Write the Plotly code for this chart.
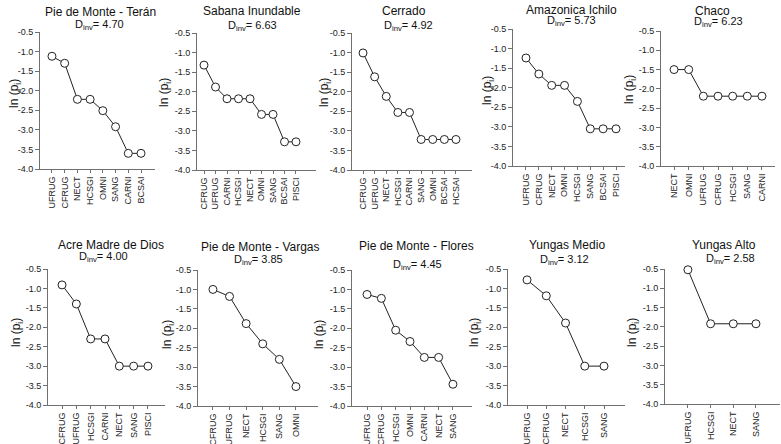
import plotly.graph_objects as go

# ---------------- data ----------------
titles = ["Pie de Monte - Terán", "Sabana Inundable", "Cerrado", "Amazonica Ichilo", "Chaco",
          "Acre Madre de Dios", "Pie de Monte - Vargas", "Pie de Monte - Flores", "Yungas Medio", "Yungas Alto"]
dinv = ["4.70", "6.63", "4.92", "5.73", "6.23", "4.00", "3.85", "4.45", "3.12", "2.58"]

teran_cats = ["UFRUG", "CFRUG", "NECT", "HCSGI", "OMNI", "SANG", "CARNI", "BCSAI"]
teran_vals = [-1.12, -1.30, -2.22, -2.22, -2.51, -2.92, -3.60, -3.60]
sabana_cats = ["CFRUG", "UFRUG", "CARNI", "HCSGI", "NECT", "OMNI", "SANG", "BCSAI", "PISCI"]
sabana_vals = [-1.32, -1.88, -2.18, -2.18, -2.18, -2.58, -2.58, -3.28, -3.28]
cerrado_cats = ["CFRUG", "UFRUG", "NECT", "HCSGI", "CARNI", "SANG", "OMNI", "BCSAI", "HCSAI"]
cerrado_vals = [-1.01, -1.62, -2.12, -2.53, -2.53, -3.22, -3.22, -3.22, -3.22]
amazonica_cats = ["UFRUG", "CFRUG", "NECT", "OMNI", "HCSGI", "SANG", "BCSAI", "PISCI"]
amazonica_vals = [-1.24, -1.65, -1.94, -1.94, -2.35, -3.05, -3.05, -3.05]
chaco_cats = ["NECT", "OMNI", "UFRUG", "CFRUG", "HCSGI", "SANG", "CARNI"]
chaco_vals = [-1.50, -1.50, -2.19, -2.19, -2.19, -2.19, -2.19]
acre_cats = ["CFRUG", "UFRUG", "HCSGI", "CARNI", "NECT", "SANG", "PISCI"]
acre_vals = [-0.91, -1.40, -2.30, -2.30, -3.00, -3.00, -3.00]
vargas_cats = ["CFRUG", "UFRUG", "NECT", "HCSGI", "SANG", "OMNI"]
vargas_vals = [-1.00, -1.18, -1.88, -2.40, -2.80, -3.50]
flores_cats = ["UFRUG", "CFRUG", "HCSGI", "OMNI", "CARNI", "NECT", "SANG"]
flores_vals = [-1.13, -1.23, -2.05, -2.34, -2.75, -2.75, -3.44]
medio_cats = ["UFRUG", "CFRUG", "NECT", "HCSGI", "SANG"]
medio_vals = [-0.78, -1.19, -1.89, -3.00, -3.00]
alto_cats = ["UFRUG", "HCSGI", "NECT", "SANG"]
alto_vals = [-0.52, -1.92, -1.92, -1.92]

y_tick_vals = [-4.0, -3.5, -3.0, -2.5, -2.0, -1.5, -1.0, -0.5]
y_tick_text = ["-4.0", "-3.5", "-3.0", "-2.5", "-2.0", "-1.5", "-1.0", "-0.5"]

series = [(teran_cats, teran_vals), (sabana_cats, sabana_vals), (cerrado_cats, cerrado_vals),
          (amazonica_cats, amazonica_vals), (chaco_cats, chaco_vals), (acre_cats, acre_vals),
          (vargas_cats, vargas_vals), (flores_cats, flores_vals), (medio_cats, medio_vals),
          (alto_cats, alto_vals)]

# ---------------- layout geometry (pixels) ----------------
W, H = 781, 444
# x0, x1, ytop(-0.5), ybot(-4.0), range0, range1
geom = [
    (40, 155, 32, 169, -0.94, 8.1),
    (197, 316, 33, 170, -0.61, 9.74),
    (352, 472, 33, 170, -0.95, 9.38),
    (513, 625, 29, 166, -1.01, 7.7),
    (661, 775, 31, 166, -0.89, 6.89),
    (48, 165, 269, 405, -0.98, 7.19),
    (198, 318, 270, 406, -0.9, 6.33),
    (352, 472, 270, 406, -1.05, 7.33),
    (508, 625, 269, 405, -0.99, 5.09),
    (665, 780, 269, 404, -1.01, 4.06),
]
# title (x, y), dinv (x, y), ylabel (x, y)
label_pos = [
    ((100, 12), (99, 25), (15, 93)),
    ((252, 11), (252, 26), (165, 93)),
    ((404, 11), (408, 26), (325, 93)),
    ((571, 10), (571, 21), (488, 90)),
    ((712, 11), (718, 22), (630, 90)),
    ((111, 245), (103, 257), (17, 333)),
    ((260, 247), (258, 260), (168, 335)),
    ((416, 246), (417, 265), (320, 335)),
    ((567, 245), (564, 260), (475, 333)),
    ((724, 245), (730, 259), (633, 333)),
]

FONT = "Liberation Sans, Arial, sans-serif"
AX_COLOR = "#707070"

fig = go.Figure()
layout = dict(
    template="none",
    width=W, height=H,
    margin=dict(l=0, r=0, t=0, b=0, pad=0),
    paper_bgcolor="white", plot_bgcolor="white",
    showlegend=False,
    font=dict(family=FONT, color="#222"),
)
annotations = []

for i, ((cats, vals), g, lp) in enumerate(zip(series, geom, label_pos)):
    n = i + 1
    xa = "x" if n == 1 else f"x{n}"
    ya = "y" if n == 1 else f"y{n}"
    fig.add_trace(go.Scatter(
        x=cats, y=vals, xaxis=xa, yaxis=ya, mode="lines+markers",
        line=dict(color="#222", width=1),
        marker=dict(symbol="circle", size=8, color="white", line=dict(color="#222", width=1)),
        cliponaxis=False, hoverinfo="x+y",
    ))
    x0, x1, yt, yb, r0, r1 = g
    xkey = "xaxis" if n == 1 else f"xaxis{n}"
    ykey = "yaxis" if n == 1 else f"yaxis{n}"
    layout[xkey] = dict(
        domain=[x0 / W, x1 / W], anchor=ya, type="category", automargin=False,
        range=[r0, r1], showline=True, linecolor=AX_COLOR, linewidth=1,
        showgrid=False, zeroline=False, ticks="outside", ticklen=3, tickcolor=AX_COLOR,
        tickangle=-90, tickfont=dict(size=9, family=FONT, color="#222"), fixedrange=True,
    )
    layout[ykey] = dict(
        domain=[1 - yb / H, 1 - yt / H], anchor=xa, automargin=False,
        range=[-4.0, -0.5], showline=True, linecolor=AX_COLOR, linewidth=1,
        showgrid=False, zeroline=False, ticks="outside", ticklen=4, tickcolor=AX_COLOR,
        tickvals=y_tick_vals, ticktext=y_tick_text,
        tickfont=dict(size=9, family=FONT, color="#222"), fixedrange=True,
    )
    (tx, ty), (dx, dy), (lx, ly) = lp
    annotations.append(dict(text=titles[i], x=tx / W, y=1 - ty / H, xref="paper", yref="paper",
                            xanchor="center", yanchor="middle", showarrow=False,
                            font=dict(size=12, family=FONT, color="#111")))
    annotations.append(dict(text=f"D<sub>inv</sub>= {dinv[i]}", x=dx / W, y=1 - dy / H,
                            xref="paper", yref="paper", xanchor="center", yanchor="middle",
                            showarrow=False, font=dict(size=11, family=FONT, color="#111")))
    annotations.append(dict(text="ln (p<sub>i</sub>)", x=lx / W, y=1 - ly / H,
                            xref="paper", yref="paper", xanchor="center", yanchor="middle",
                            textangle=-90, showarrow=False,
                            font=dict(size=12, family=FONT, color="#111")))

layout["annotations"] = annotations
fig.update_layout(**layout)
fig.write_html(
    "out.html",
    config={"displayModeBar": False},
    post_script="document.body.style.margin='0';document.body.style.overflow='hidden';",
)
